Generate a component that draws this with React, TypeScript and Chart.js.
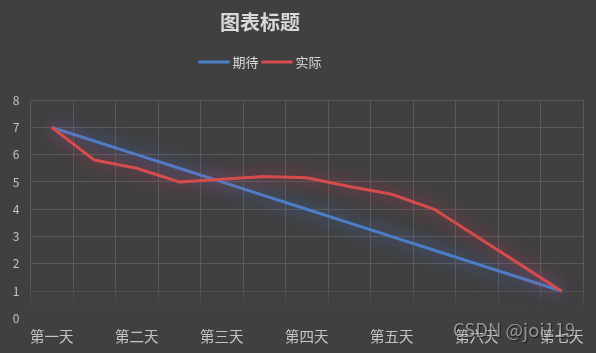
import React, { useEffect, useRef } from "react";
import { Chart, registerables } from "chart.js";

Chart.register(...registerables);

const chartTitle = "图表标题";
const days = ["第一天", "第二天", "第三天", "第四天", "第五天", "第六天", "第七天"];
const categories = days.flatMap((d, i) => (i < days.length - 1 ? [d, ""] : [d]));
const seriesNames = ["期待", "实际"];
const expected = [7, 6.5, 6, 5.5, 5, 4.5, 4, 3.5, 3, 2.5, 2, 1.5, 1];
const actual = [7, 5.8, 5.5, 5.0, 5.1, 5.2, 5.15, 4.83, 4.55, 4.0, 3.0, 2.0, 1.0];
const yTicks = [0, 1, 2, 3, 4, 5, 6, 7, 8];

const BG = "#404040";
const BLUE = "rgb(76,126,200)";
const RED = "rgb(212,76,76)";
const GLOW = ["rgba(70,120,230,0.95)", "rgba(225,55,95,0.9)"];
const TEXT = "#d9d9d9";
const TICK = "#c4c4c4";
const GRID = "#5a5a5a";
const FONT = "'Noto Sans CJK SC', 'Noto Sans', sans-serif";

const glowPlugin = {
  id: "glow",
  beforeDatasetDraw(chart: any, args: any) {
    const ctx = chart.ctx;
    ctx.save();
    ctx.shadowColor = GLOW[args.index];
    ctx.shadowBlur = 18;
  },
  afterDatasetDraw(chart: any) {
    chart.ctx.restore();
  },
};

const fadePlugin = {
  id: "fade",
  beforeDatasetsDraw(chart: any) {
    const { ctx, chartArea } = chart;
    const y = chart.scales.y;
    const y0 = y.getPixelForValue(1.4);
    const y1 = y.getPixelForValue(0) - 6;
    const g = ctx.createLinearGradient(0, y0, 0, y1);
    g.addColorStop(0, "rgba(64,64,64,0)");
    g.addColorStop(1, "rgba(64,64,64,1)");
    ctx.save();
    ctx.fillStyle = g;
    ctx.fillRect(chartArea.left - 2, y0, chartArea.right - chartArea.left + 4, chartArea.bottom - y0 + 2);
    ctx.restore();
  },
};

const headerPlugin = {
  id: "header",
  afterDraw(chart: any) {
    const ctx = chart.ctx;
    const cx = 260;
    ctx.save();
    ctx.fillStyle = TEXT;
    ctx.textAlign = "center";
    ctx.textBaseline = "middle";
    ctx.font = `bold 20px ${FONT}`;
    ctx.fillText(chartTitle, cx, 22.5);

    // legend
    ctx.font = `13px ${FONT}`;
    const lineW = 31;
    const gapText = 3;
    const gapItem = 3;
    const colors = [BLUE, RED];
    const widths = seriesNames.map((n) => ctx.measureText(n).width);
    let total = 0;
    widths.forEach((w, i) => {
      total += lineW + gapText + w + (i < widths.length - 1 ? gapItem : 0);
    });
    let x = cx - total / 2;
    const ly = 62;
    ctx.textAlign = "left";
    seriesNames.forEach((n, i) => {
      ctx.strokeStyle = colors[i];
      ctx.lineWidth = 3;
      ctx.lineCap = "round";
      ctx.beginPath();
      ctx.moveTo(x + 1, ly);
      ctx.lineTo(x + lineW - 1, ly);
      ctx.stroke();
      x += lineW + gapText;
      ctx.fillStyle = TEXT;
      ctx.fillText(n, x, ly);
      x += widths[i] + gapItem;
    });
    ctx.restore();
  },
};

export default function App() {
  const ref = useRef<HTMLCanvasElement | null>(null);
  useEffect(() => {
    if (!ref.current) return;
    const chart = new Chart(ref.current, {
      type: "line",
      data: {
        labels: categories,
        datasets: [
          {
            label: seriesNames[0],
            data: expected,
            borderColor: BLUE,
            backgroundColor: BLUE,
            borderWidth: 3,
            pointRadius: 0,
            tension: 0,
            order: 1,
          },
          {
            label: seriesNames[1],
            data: actual,
            borderColor: RED,
            backgroundColor: RED,
            borderWidth: 3,
            pointRadius: 0,
            tension: 0,
            order: 0,
          },
        ],
      },
      options: {
        animation: false,
        responsive: true,
        maintainAspectRatio: false,
        layout: { padding: { top: 100, right: 13, left: 0, bottom: 0 } },
        plugins: {
          legend: { display: false },
          title: { display: false },
          tooltip: { enabled: false },
        },
        scales: {
          x: {
            type: "category",
            offset: true,
            grid: { offset: true, color: GRID, lineWidth: 1, drawTicks: false },
            border: { display: false },
            ticks: {
              autoSkip: false,
              maxRotation: 0,
              minRotation: 0,
              color: TICK,
              font: { family: FONT, size: 14.5 },
              padding: 9,
            },
            afterFit(scale: any) {
              scale.height = 34.5;
            },
          },
          y: {
            min: 0,
            max: 8,
            afterBuildTicks(scale: any) {
              scale.ticks = yTicks.map((v) => ({ value: v }));
            },
            grid: { color: GRID, lineWidth: 1, drawTicks: false },
            border: { display: false },
            ticks: {
              color: TICK,
              font: { family: FONT, size: 12 },
              padding: 11,
            },
            afterFit(scale: any) {
              scale.width = 30.5;
            },
          },
        },
      },
      plugins: [fadePlugin, glowPlugin, headerPlugin],
    });
    return () => chart.destroy();
  }, []);

  return (
    <div
      style={{
        position: "fixed",
        left: 0,
        top: 0,
        width: 596,
        height: 353,
        background: BG,
        overflow: "hidden",
      }}
    >
      <canvas ref={ref} />
      <div
        style={{
          position: "absolute",
          left: 453,
          top: 316,
          fontFamily: FONT,
          fontSize: 18.5,
          color: "rgba(205,205,205,0.62)",
          textShadow: "1px 1px 1px rgba(0,0,0,0.55)",
          whiteSpace: "nowrap",
          pointerEvents: "none",
        }}
      >
        CSDN @joi119
      </div>
    </div>
  );
}
